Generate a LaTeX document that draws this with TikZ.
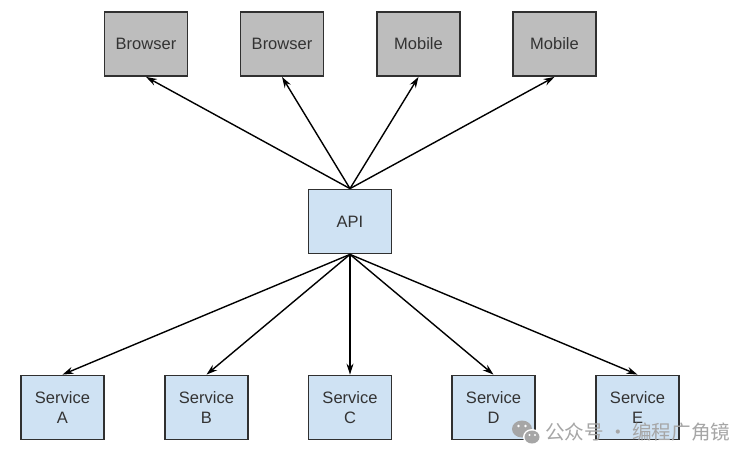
\documentclass[tikz,border=0pt]{standalone}
\usepackage{fontspec}
\setmainfont{Liberation Sans}
\newfontfamily\cjk{Noto Sans CJK SC}
\usetikzlibrary{arrows.meta}
\definecolor{boxline}{HTML}{303030}
\definecolor{grayfill}{HTML}{BDBDBD}
\definecolor{bluefill}{HTML}{CFE2F3}
\definecolor{txt}{HTML}{333333}
\definecolor{wm}{HTML}{A6A6A6}
\begin{document}
\begin{tikzpicture}[x=1pt,y=-1pt,
  box/.style={draw=boxline,line width=1.8pt,minimum width=83pt,minimum height=64pt,inner sep=0pt,
    text=txt,font=\fontsize{16.5}{20}\selectfont,align=center},
  client/.style={box,fill=grayfill},
  svc/.style={box,fill=bluefill},
  conn/.style={line width=1.4pt,-{Stealth[length=11pt,width=7pt]}}]
\useasboundingbox (0,0) rectangle (755,464);
\fill[white] (0,0) rectangle (755,464);
\node[client] (b1) at (146,44) {Browser};
\node[client] (b2) at (282,44) {Browser};
\node[client] (m1) at (418.5,44) {Mobile};
\node[client] (m2) at (554.5,44) {Mobile};
\node[svc] (api) at (350,221.5) {API};
\node[svc] (sa) at (62.5,407.5) {Service\\A};
\node[svc] (sb) at (206.5,407.5) {Service\\B};
\node[svc] (sc) at (350,407.5) {Service\\C};
\node[svc] (sd) at (493.5,407.5) {Service\\D};
\node[svc] (se) at (637.5,407.5) {Service\\E};
\foreach \t in {b1,b2,m1,m2} \draw[conn] (api.north) -- (\t.south);
\foreach \t in {sa,sb,sc,sd,se} \draw[conn] (api.south) -- (\t.north);
% watermark
\node[inner sep=0pt,anchor=west,text=wm,font=\cjk\fontsize{19.6}{22}\selectfont] (wmtext) at (545,432) {公众号 · 编程广角镜};
\fill[wm] (522,429) ellipse (10pt and 8.5pt);
\fill[white] (532,437) ellipse (9pt and 8pt);
\fill[wm] (532,437) ellipse (7.5pt and 6.5pt);
\fill[white] (518.5,426) circle (1.4pt) (525.5,426) circle (1.4pt);
\fill[white] (529.5,435) circle (1.1pt) (535,435) circle (1.1pt);
\end{tikzpicture}
\end{document}
